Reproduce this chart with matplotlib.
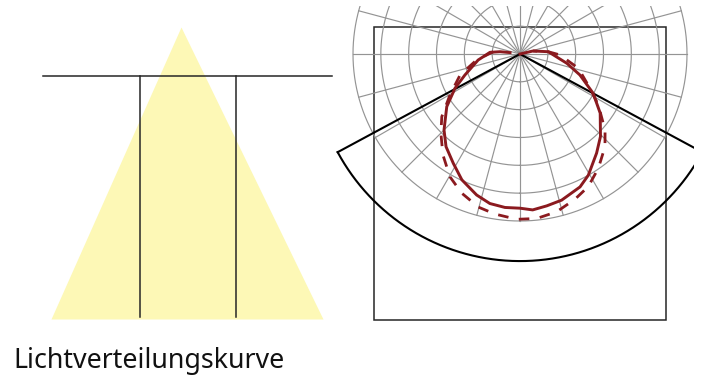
#!/usr/bin/env python3
import matplotlib as mpl

mpl.use("Agg")
import matplotlib.pyplot as plt
import numpy as np
from matplotlib.patches import Rectangle

W, H = 704, 383

# light distribution curves, angle from nadir (deg) and intensity (cd/klm)
SOLID_ANGLE = [-98, -96.6, -93.2, -81.8, -69.1, -62.2, -54.3, -45, -38.6, -31.4, -24.8, -17.1, -11.4, -5.6,
               0, 4.65, 10, 15.9, 24.3, 29.4, 37.7, 44.3, 53.6, 61.8, 70.7, 78.7, 94.6, 103, 180]
SOLID_VALUE = [18, 36, 54, 76, 106, 132, 162, 193, 213, 230, 249, 265, 274, 277,
               277, 281, 277, 273, 262, 250, 225, 207, 179, 149, 114, 86, 51, 24, 0]
DASHED_ANGLE = [-94.9, -82, -70.7, -59.6, -51.3, -45, -37.4, -29.7, -22.7, -15.2, -8.9, -1.1,
                5.8, 13.1, 20.7, 27.2, 34.4, 42.5, 48.2, 56.9, 63.9, 76.2, 88.6, 94.6, 103]
DASHED_VALUE = [48, 79, 114, 146, 180, 201, 228, 254, 271, 285, 291, 297,
                297, 291, 279, 268, 249, 226, 205, 168, 140, 108, 72, 51, 24]
RINGS = [50, 100, 150, 200, 250, 300]
SPOKES = np.arange(0, 360, 15)
CONE_HALF_ANGLE = 61.7
CONE_REACH = 372

TITLE = "Lichtverteilungskurve"

INK = "#262626"
GRID = "#949494"
LIGHT = "#FDF8B6"
CURVE = "#8B1A1F"

# polar scale: 300 cd/klm is 167 px, centre of the diagram at (520, 54) px
CX, CY = 520, 54
PX_PER_UNIT = 167 / 300
RMAX = 400


def draw_room(ax):
    ax.fill([181.5, 323.5, 51.5], [27.5, 319.5, 319.5], color=LIGHT, lw=0, zorder=1)
    ax.plot([43, 332], [75.5, 75.5], color=INK, lw=1.1, zorder=2)
    ax.plot([139.5, 139.5], [75.5, 317], color=INK, lw=1.1, zorder=2)
    ax.plot([236, 236], [75.5, 317], color=INK, lw=1.1, zorder=2)
    ax.add_patch(Rectangle((374, 27), 292, 292.5, fill=False, ec=INK, lw=1.1, zorder=2))


def draw_polar(ax, clip):
    artists = []
    full = np.radians(np.linspace(0, 360, 361))
    for r in RINGS:
        artists += ax.plot(full, np.full_like(full, r), color=GRID, lw=0.85, zorder=1)
    for a in SPOKES:
        artists += ax.plot(np.radians([a, a]), [0, RINGS[-1]], color=GRID, lw=0.85, zorder=1)

    # cutoff cone
    arc = np.radians(np.linspace(-CONE_HALF_ANGLE, CONE_HALF_ANGLE, 200))
    tip = np.radians(CONE_HALF_ANGLE)
    artists += ax.plot(arc, np.full_like(arc, CONE_REACH), color="black", lw=1.5, zorder=3)
    artists += ax.plot([-tip, 0, tip], [CONE_REACH, 0, CONE_REACH], color="black", lw=1.5, zorder=3)

    artists += ax.plot(np.radians(DASHED_ANGLE), DASHED_VALUE, color=CURVE, lw=2.0, zorder=4,
                       dashes=(3.8, 3.8))
    artists += ax.plot(np.radians(SOLID_ANGLE), SOLID_VALUE, color=CURVE, lw=2.1, zorder=5)
    for artist in artists:
        artist.set_clip_path(clip)


def main():
    fig = plt.figure(figsize=(W / 100, H / 100), dpi=100)

    ax_room = fig.add_axes([0, 0, 1, 1])
    ax_room.set_xlim(0, W)
    ax_room.set_ylim(H, 0)
    ax_room.axis("off")
    draw_room(ax_room)

    reach = RMAX * PX_PER_UNIT
    ax_polar = fig.add_axes(
        [(CX - reach) / W, (H - CY - reach) / H, 2 * reach / W, 2 * reach / H],
        projection="polar",
    )
    ax_polar.set_theta_zero_location("S")
    ax_polar.set_ylim(0, RMAX)
    ax_polar.axis("off")
    ax_polar.patch.set_alpha(0)
    clip = Rectangle((0, 0), 694 / W, (H - 6) / H, transform=fig.transFigure)
    draw_polar(ax_polar, clip)

    fig.text(13 / W, (H - 368) / H, TITLE, fontsize=19.3, color="#111111", family="Noto Sans",
             ha="left", va="baseline")

    fig.savefig("out.png", dpi=100)
    plt.close(fig)


if __name__ == "__main__":
    main()
